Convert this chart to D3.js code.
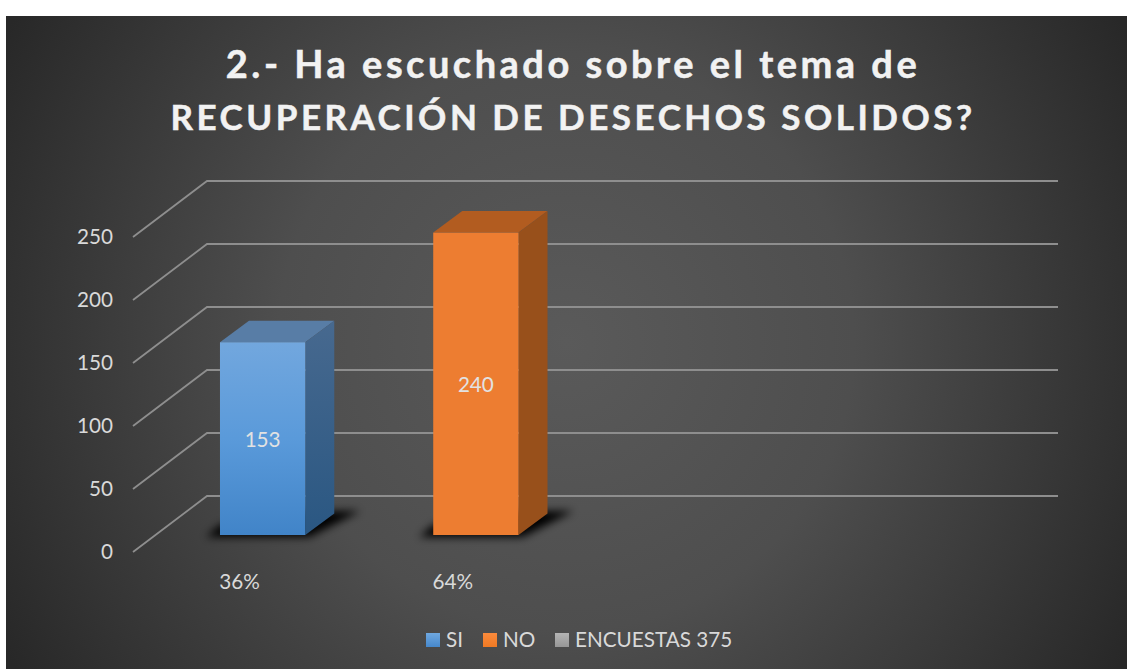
<!DOCTYPE html>
<html><head><meta charset="utf-8">
<script src="https://cdn.jsdelivr.net/npm/d3@7"></script>
<style>html,body{margin:0;padding:0;background:#fff}svg{display:block}</style>
</head><body>
<svg id="c" width="1127" height="669"></svg>
<script>
const titleLines=["2.- Ha escuchado sobre el tema de","RECUPERACIÓN DE DESECHOS SOLIDOS?"];
const categories=["36%","64%","",""];
const values=[153,240];
const barColors=["#5b9bd5","#ed7d31"];
const yTicks=[0,50,100,150,200,250];
const legendNames=["SI","NO","ENCUESTAS 375"];

const W=1127,H=669,font="Lato,'Open Sans',sans-serif",labelSize=20.7;
const svg=d3.select("#c");
const defs=svg.append("defs");
const bg=defs.append("radialGradient").attr("id","bg").attr("gradientUnits","userSpaceOnUse")
 .attr("cx",566).attr("cy",342).attr("r",640);
bg.append("stop").attr("offset",0).attr("stop-color","#5a5a5a");
bg.append("stop").attr("offset",.45).attr("stop-color","#4e4e4e");
bg.append("stop").attr("offset",1).attr("stop-color","#282828");
const g1=defs.append("linearGradient").attr("id","blue").attr("x1",0).attr("x2",0).attr("y1",0).attr("y2",1);
g1.append("stop").attr("offset",0).attr("stop-color","#72a7de");
g1.append("stop").attr("offset",.5).attr("stop-color","#5a9ada");
g1.append("stop").attr("offset",1).attr("stop-color","#4184c8");
const g2=defs.append("linearGradient").attr("id","blueSide").attr("x1",0).attr("x2",0).attr("y1",0).attr("y2",1);
g2.append("stop").attr("offset",0).attr("stop-color","#47698f");
g2.append("stop").attr("offset",1).attr("stop-color","#2a5782");
const lg=defs.append("linearGradient").attr("id","lb").attr("x1",0).attr("x2",0).attr("y1",0).attr("y2",1);
lg.append("stop").attr("offset",0).attr("stop-color","#6fa8e0");
lg.append("stop").attr("offset",1).attr("stop-color","#4688cc");
const lo=defs.append("linearGradient").attr("id","lo").attr("x1",0).attr("x2",0).attr("y1",0).attr("y2",1);
lo.append("stop").attr("offset",0).attr("stop-color","#fa8a3c");
lo.append("stop").attr("offset",1).attr("stop-color","#f07a24");
const lgg=defs.append("linearGradient").attr("id","lg").attr("x1",0).attr("x2",0).attr("y1",0).attr("y2",1);
lgg.append("stop").attr("offset",0).attr("stop-color","#b4b4b4");
lgg.append("stop").attr("offset",1).attr("stop-color","#979797");
defs.append("filter").attr("id","blur").attr("x","-30%").attr("y","-100%").attr("width","160%").attr("height","300%")
 .append("feGaussianBlur").attr("stdDeviation",4);

svg.append("rect").attr("x",6).attr("y",16).attr("width",W-6).attr("height",H-16).attr("fill","url(#bg)");

svg.append("g").selectAll("text").data(titleLines).join("text")
 .attr("x",573).attr("y",(d,i)=>78+i*52).attr("text-anchor","middle")
 .attr("font-family",font).attr("font-weight",700).attr("font-size",(d,i)=>i==0?38:35)
 .attr("letter-spacing",3.5)
 .attr("stroke","#f2f2f2").attr("stroke-width",.5)
 .attr("fill","#f2f2f2").text(d=>d);

const dx=74,dy=-56;
const y=d3.scaleLinear().domain([0,250]).range([552,237]);
const x=d3.scaleBand().domain(d3.range(categories.length)).range([133,986]).paddingInner(.6).paddingOuter(.3);
const barDx=23,barDy=-17,depthX=29,depthY=-21.5,gridRight=1058;

const grid=svg.append("g").attr("fill","none").attr("stroke","#8e8e8e").attr("stroke-width",1.8);
grid.selectAll("path").data(yTicks).join("path")
 .attr("d",t=>d3.line()([[x.range()[0],y(t)],[x.range()[0]+dx,y(t)+dy],[gridRight,y(t)+dy]]));

svg.append("g").selectAll("text").data(yTicks).join("text")
 .attr("x",113).attr("y",t=>y(t)+6.5).attr("text-anchor","end")
 .attr("font-family",font).attr("font-size",labelSize).attr("fill","#d9d9d9").text(d=>d);

const bars=svg.append("g").selectAll("g").data(values).join("g");
bars.append("path").attr("filter","url(#blur)").attr("fill","#050505")
 .attr("d",(d,i)=>{const l=x(i)+barDx,b=y(0)+barDy,r=l+x.bandwidth();
  return d3.line()([[l-14,b+2],[r+4,b+2],[r+depthX+26,b-24],[r,b-24],[l,b-10]])+"Z";});
bars.each(function(d,i){
 const s=d3.select(this),l=x(i)+barDx,r=l+x.bandwidth(),b=y(0)+barDy,t=y(d)+barDy;
 const c=d3.color(barColors[i]);
 s.append("path").attr("fill",i==0?"#587da6":"#b25c20")
  .attr("d",d3.line()([[l,t],[r,t],[r+depthX,t+depthY],[l+depthX,t+depthY]])+"Z");
 s.append("path").attr("fill",i==0?"url(#blueSide)":"#98501b")
  .attr("d",d3.line()([[r,t],[r+depthX,t+depthY],[r+depthX,b+depthY],[r,b]])+"Z");
 s.append("rect").attr("x",l).attr("y",t).attr("width",r-l).attr("height",b-t)
  .attr("fill",i==0?"url(#blue)":c.formatHex());
 s.append("text").attr("x",(l+r)/2).attr("y",(t+b)/2+8.5).attr("text-anchor","middle")
  .attr("font-family",font).attr("font-size",labelSize).attr("fill","#e2e2e2").text(d);
});

svg.append("g").selectAll("text").data(categories).join("text")
 .attr("x",(d,i)=>x(i)+x.bandwidth()/2).attr("y",589).attr("text-anchor","middle")
 .attr("font-family",font).attr("font-size",labelSize).attr("fill","#d9d9d9").text(d=>d);

const lx=[426,483,555],fills=["url(#lb)","url(#lo)","url(#lg)"];
const leg=svg.append("g").selectAll("g").data(legendNames).join("g").attr("transform",(d,i)=>`translate(${lx[i]},633)`);
leg.append("rect").attr("width",14).attr("height",14).attr("fill",(d,i)=>fills[i]);
leg.append("text").attr("x",20).attr("y",14).attr("font-family",font).attr("font-size",labelSize).attr("fill","#d9d9d9").text(d=>d);
</script>
</body></html>
